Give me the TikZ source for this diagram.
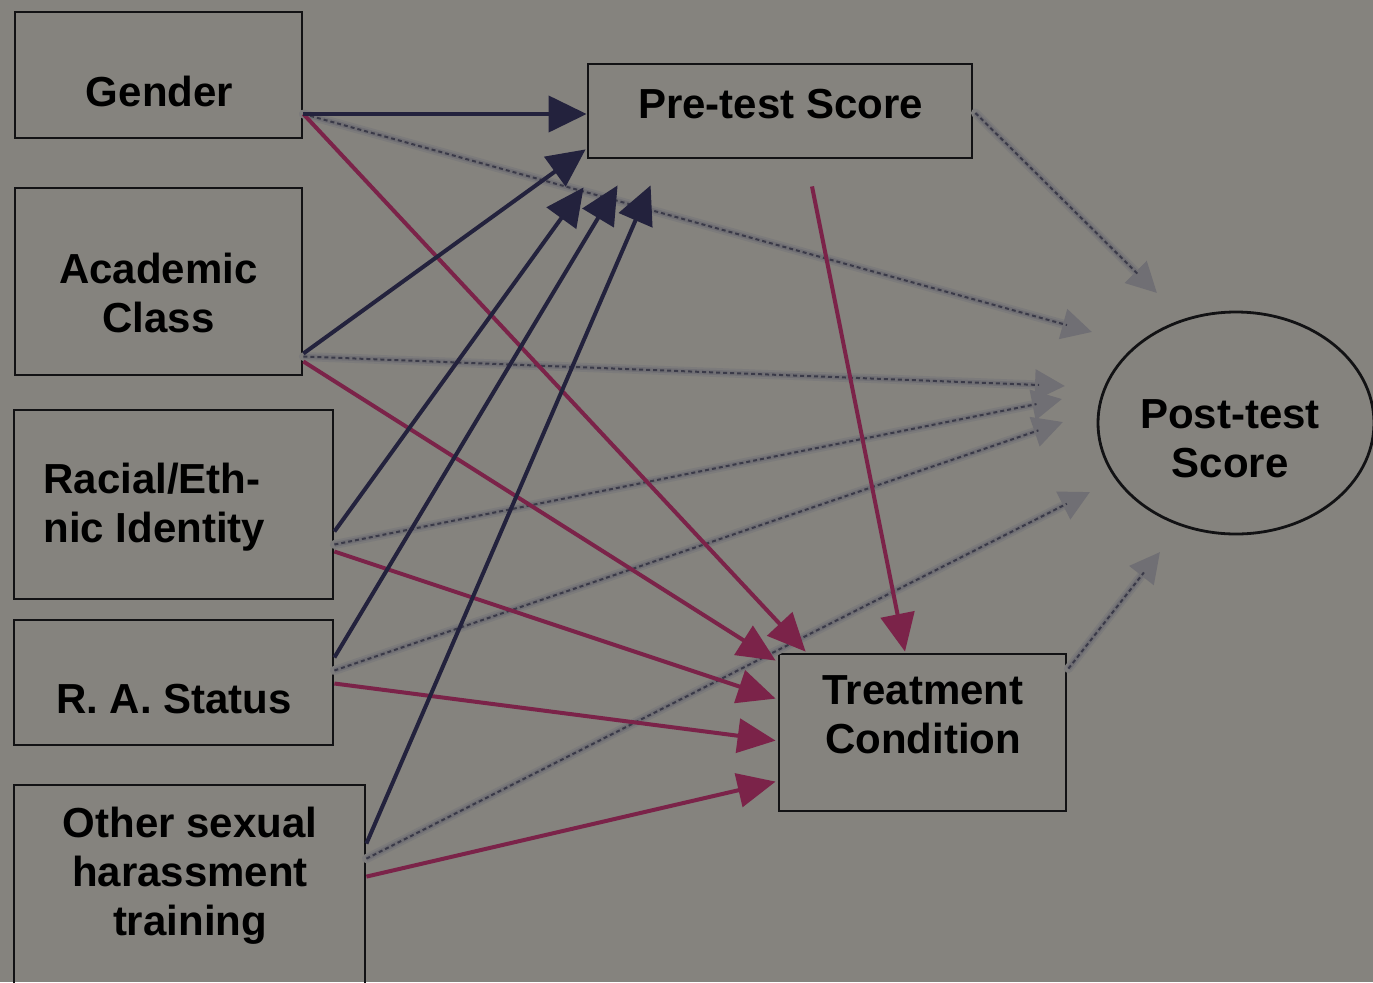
\documentclass[tikz,border=0pt]{standalone}
\usepackage{fontspec}
\setmainfont{Liberation Sans}
\usetikzlibrary{arrows.meta,calc,shapes.geometric}

\definecolor{bg}{HTML}{85837E}
\definecolor{boxline}{HTML}{121214}
\definecolor{navy}{HTML}{23223D}
\definecolor{wine}{HTML}{7B2349}
\definecolor{hazewide}{HTML}{7C7B7B}
\definecolor{hazegray}{HTML}{706F74}
\definecolor{speck}{HTML}{3A3A48}

% gray dotted path with a soft halo underneath
\newcommand\hazyarrow[2]{%
  \draw[hazeouter] (#1) -- (#2);
  \draw[haze] (#1) -- (#2);
  \draw[specks] (#1) -- (#2);}

\begin{document}
\begin{tikzpicture}[x=0.5pt,y=-0.5pt,
  box/.style={draw=boxline, line width=1.4pt, inner sep=0pt},
  lbl/.style={inner sep=0pt, text=black,
    font=\bfseries\fontsize{21pt}{24.5pt}\selectfont},
  toPre/.style={draw=navy, line width=2pt, -{Triangle[length=19pt,width=18pt]}},
  toTreat/.style={draw=wine, line width=2pt, -{Triangle[length=19pt,width=17pt]}},
  hazeouter/.style={draw=hazewide, line width=4.5pt, line cap=round, shorten >=10pt},
  haze/.style={draw=hazegray, line width=2.5pt, -{Triangle[length=15pt,width=15pt]}},
  specks/.style={draw=speck, line width=1pt, dash pattern=on 2pt off 1.5pt, shorten >=13pt}
]
\useasboundingbox (0,0) rectangle (1373,982);
\fill[bg] (0,0) rectangle (1373,982);

% ---- boxes ----
\node[box, minimum width=143.5pt, minimum height=63pt]   (gender)   at (158.5,75)    {};
\node[box, minimum width=143.5pt, minimum height=93.5pt] (academic) at (158.5,281.5) {};
\node[box, minimum width=159.5pt, minimum height=94.5pt] (racial)   at (173.5,504.5) {};
\node[box, minimum width=159.5pt, minimum height=62.5pt] (ra)       at (173.5,682.5) {};
\node[box, minimum width=175.5pt, minimum height=107.5pt](other)    at (189.5,892.5) {};
\node[box, minimum width=192pt,   minimum height=47pt]   (pre)      at (780,111)     {};
\node[box, minimum width=143.5pt, minimum height=78.5pt] (treat)    at (922.5,732.5) {};
\node[box, ellipse, minimum width=138pt, minimum height=111pt] (post) at (1236,423) {};

% ---- labels (base = baseline of the last line) ----
\node[lbl, anchor=base] (gender-t) at (159.5,106) {Gender};
\node[lbl, anchor=base, align=center] (academic-t) at (158.5,332) {Academic\\Class};
\node[lbl, anchor=base west, align=left] (racial-t) at (43,542) {Racial/Eth-\\nic Identity};
\node[lbl, anchor=base] (ra-t) at (174,713) {R. A. Status};
\node[lbl, anchor=base, align=center] (other-t) at (190,935) {Other sexual\\harassment\\training};
\node[lbl, anchor=base] (pre-t) at (780.5,118) {Pre-test Score};
\node[lbl, anchor=base, align=center] (treat-t) at (923,753) {Treatment\\Condition};
\node[lbl, anchor=base, align=center] (post-t) at (1230,477) {Post-test\\Score};

% ---- connector ends ----
\coordinate (g-out)  at ($(gender.east)+(0,39)$);
\coordinate (a-out1) at ($(academic.east)+(0,72)$);
\coordinate (a-out2) at ($(academic.east)+(0,75)$);
\coordinate (a-out3) at ($(academic.east)+(0,80)$);
\coordinate (r-out1) at ($(racial.east)+(0,27)$);
\coordinate (r-out2) at ($(racial.east)+(0,40)$);
\coordinate (r-out3) at ($(racial.east)+(0,47)$);
\coordinate (s-out1) at ($(ra.east)+(0,-25)$);
\coordinate (s-out2) at ($(ra.east)+(0,-12)$);
\coordinate (s-out3) at ($(ra.east)+(0,1)$);
\coordinate (o-out1) at ($(other.north east)+(0,60)$);
\coordinate (o-out2) at ($(other.north east)+(0,75)$);
\coordinate (o-out3) at ($(other.north east)+(0,93)$);

\coordinate (p-in2) at ($(pre.south west)+(-1,-10)$);
\coordinate (p-in3) at ($(pre.south west)+(-3,28)$);
\coordinate (p-in4) at ($(pre.south west)+(31,26)$);
\coordinate (p-in5) at ($(pre.south west)+(64,26)$);

\coordinate (t-in1) at ($(treat.north west)+(28,-1)$);
\coordinate (t-in2) at ($(treat.north west)+(-2,8)$);
\coordinate (t-in3) at ($(treat.north west)+(-2,46)$);
\coordinate (t-in4) at ($(treat.north west)+(-2,88)$);
\coordinate (t-in5) at ($(treat.north west)+(-2,129)$);
\coordinate (p-out) at ($(pre.south)+(32,27)$);
\coordinate (t-in6) at ($(treat.north)+(-17.5,-1)$);

\coordinate (pre-out2) at ($(pre.east)+(2,2)$);
\coordinate (treat-out) at ($(treat.north east)+(1,16)$);
\coordinate (q-pre) at ($(post.center)+(-79,-130)$);
\coordinate (q-g)   at ($(post.center)+(-144,-91)$);
\coordinate (q-a)   at ($(post.center)+(-171,-37)$);
\coordinate (q-r)   at ($(post.center)+(-174,-24)$);
\coordinate (q-s)   at ($(post.center)+(-173,-1)$);
\coordinate (q-o)   at ($(post.center)+(-146,69)$);
\coordinate (q-t)   at ($(post.center)+(-76,129)$);

% ---- paths to the post-test score ----
\hazyarrow{pre-out2}{q-pre}
\hazyarrow{g-out}{q-g}
\hazyarrow{a-out2}{q-a}
\hazyarrow{r-out2}{q-r}
\hazyarrow{s-out2}{q-s}
\hazyarrow{o-out2}{q-o}
\hazyarrow{treat-out}{q-t}

% ---- paths to the treatment condition ----
\draw[toTreat] (g-out)  -- (t-in1);
\draw[toTreat] (a-out3) -- (t-in2);
\draw[toTreat] (r-out3) -- (t-in3);
\draw[toTreat] (s-out3) -- (t-in4);
\draw[toTreat] (o-out3) -- (t-in5);
\draw[toTreat] (p-out)  -- (t-in6);

% ---- paths to the pre-test score ----
\draw[toPre] (g-out)  -- (g-out -| pre.west);
\draw[toPre] (a-out1) -- (p-in2);
\draw[toPre] (r-out1) -- (p-in3);
\draw[toPre] (s-out1) -- (p-in4);
\draw[toPre] (o-out1) -- (p-in5);
\end{tikzpicture}
\end{document}
